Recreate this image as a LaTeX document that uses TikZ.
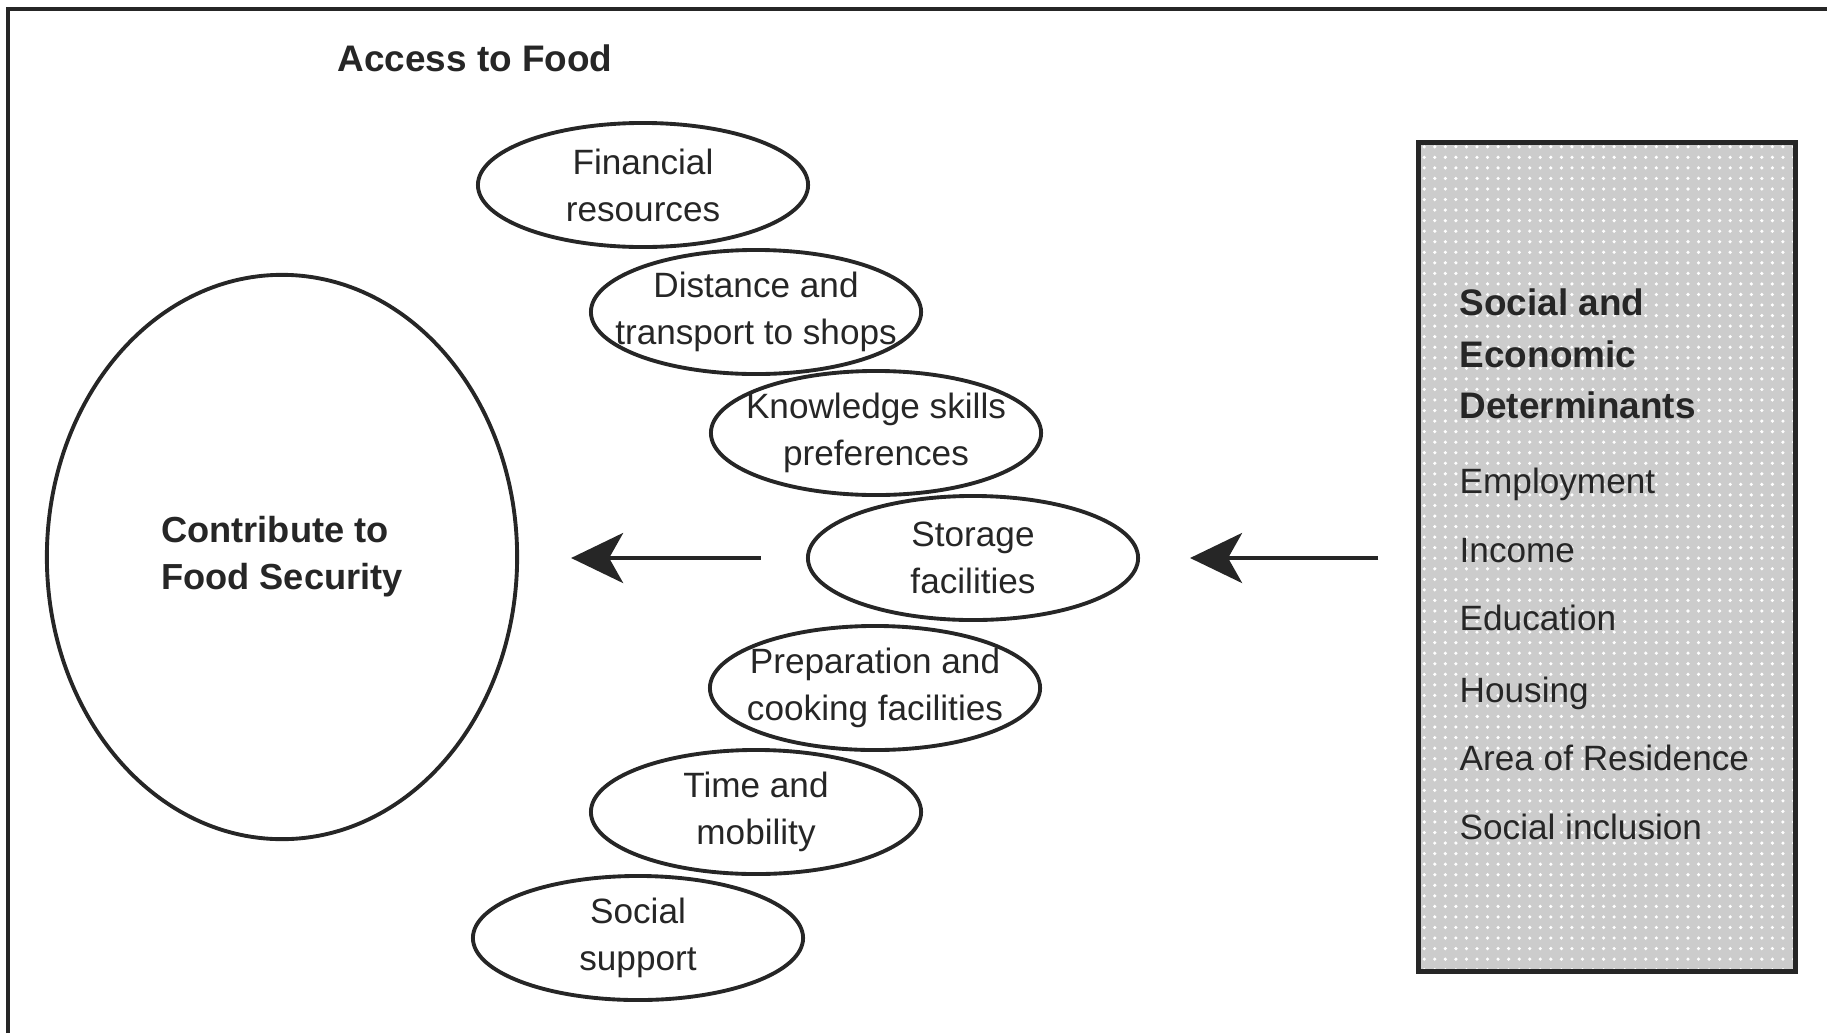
\documentclass[tikz,border=0pt]{standalone}
\usepackage{fontspec}
\setmainfont{Liberation Sans}
\usepackage{tikz}
\usetikzlibrary{patterns,arrows.meta,shapes.geometric}
\definecolor{boxgray}{RGB}{204,204,204}
\definecolor{ink}{RGB}{38,38,38}

\begin{document}
\begin{tikzpicture}[x=0.01cm,y=-0.01cm,
  factor/.style={ellipse,draw=ink,line width=1.1pt,inner ysep=0pt,inner xsep=-0.4cm,minimum width=3.3cm,minimum height=1.24cm,align=center,text=ink,font=\fontsize{10}{13.4}\selectfont},
  goal/.style={ellipse,draw=ink,line width=1.1pt,inner sep=0pt,minimum width=4.7cm,minimum height=5.64cm,align=left,text=ink,font=\fontsize{10.3}{13.4}\selectfont\bfseries},
  detbox/.style={draw=ink,line width=1.4pt,preaction={fill=boxgray},pattern=dots,pattern color=white,minimum width=3.76cm,minimum height=8.28cm,inner sep=0pt},
  head/.style={anchor=base west,inner sep=0pt,text=ink,font=\fontsize{10.5}{12}\selectfont\bfseries},
  item/.style={anchor=base west,inner sep=0pt,text=ink,font=\fontsize{10}{12}\selectfont},
  flow/.style={draw=ink,line width=1.1pt,-{Stealth[length=5.2mm,width=5mm,inset=1.4mm]}}]
\useasboundingbox (0,0) rectangle (1827,1033);
\draw[ink,line width=1.2pt] (8,1033) -- (8,9) -- (1827,9);

\node[anchor=base,inner sep=0pt,text=ink,font=\fontsize{10.5}{12}\selectfont\bfseries] (title) at (475,71) {Access to Food};

\node[goal] (food) at (282,557) {Contribute to\\Food Security};

\node[factor] (money) at (643,185) {Financial\\resources};
\node[factor] (shops) at (756,312) {Distance and\\transport to shops};
\node[factor] (skills) at (876,433) {Knowledge skills\\preferences};
\node[factor] (storage) at (973,558) {Storage\\facilities};
\node[factor] (cooking) at (875,688) {Preparation and\\cooking facilities};
\node[factor] (mobility) at (756,812) {Time and\\mobility};
\node[factor] (support) at (638,938) {Social\\support};

\node[detbox] (box) at (1607,557) {};
\node[head] (h1) at (1459,315) {Social and};
\node[head] (h2) at (1459,367) {Economic};
\node[head] (h3) at (1459,418) {Determinants};
\node[item] (d1) at (1459,493) {Employment};
\node[item] (d2) at (1459,562) {Income};
\node[item] (d3) at (1459,630) {Education};
\node[item] (d4) at (1459,702) {Housing};
\node[item] (d5) at (1459,770) {Area of Residence};
\node[item] (d6) at (1459,839) {Social inclusion};

\draw[flow,shorten <=0.45cm,shorten >=0.52cm] (storage.west) -- (storage.west -| food.east);
\draw[flow,shorten <=0.38cm,shorten >=0.5cm] (storage.east -| box.west) -- (storage.east);
\end{tikzpicture}
\end{document}
